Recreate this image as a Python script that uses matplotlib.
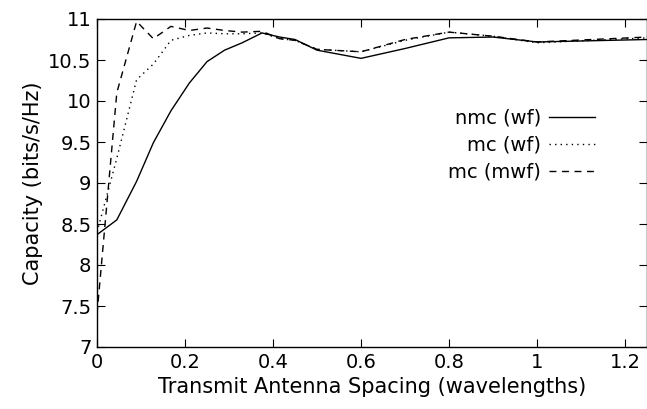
import matplotlib

matplotlib.use("Agg")
import matplotlib.pyplot as plt

# Transmit antenna spacing (wavelengths)
spacing = [0.0, 0.045, 0.09, 0.128, 0.168, 0.21, 0.25, 0.29, 0.33, 0.375,
           0.415, 0.45, 0.5, 0.6, 0.7, 0.8, 0.9, 1.0, 1.25]

# Capacity (bits/s/Hz)
nmc_wf = [8.37, 8.55, 9.02, 9.49, 9.88, 10.22, 10.48, 10.62, 10.71, 10.83,
          10.78, 10.75, 10.62, 10.52, 10.64, 10.77, 10.78, 10.72, 10.75]
mc_wf = [8.40, 9.30, 10.26, 10.45, 10.74, 10.80, 10.83, 10.82, 10.82, 10.83,
         10.76, 10.74, 10.63, 10.60, 10.74, 10.84, 10.79, 10.71, 10.77]
mc_mwf = [7.40, 10.10, 10.97, 10.76, 10.91, 10.86, 10.89, 10.86, 10.84, 10.85,
          10.76, 10.74, 10.63, 10.60, 10.75, 10.84, 10.79, 10.72, 10.78]

x_ticks = [0, 0.2, 0.4, 0.6, 0.8, 1, 1.2]
x_tick_labels = ["0", "0.2", "0.4", "0.6", "0.8", "1", "1.2"]
y_ticks = [7, 7.5, 8, 8.5, 9, 9.5, 10, 10.5, 11]
y_tick_labels = ["7", "7.5", "8", "8.5", "9", "9.5", "10", "10.5", "11"]

plt.rcParams["font.family"] = ["DejaVu Sans"]

fig = plt.figure(figsize=(6.47, 4.09), dpi=100, facecolor="white")
ax = fig.add_axes([97 / 647, 1 - 347 / 409, 550 / 647, 328 / 409])

ax.plot(spacing, nmc_wf, color="black", linewidth=1.0, linestyle="-", label="nmc (wf)")
ax.plot(spacing, mc_wf, color="black", linewidth=1.0, linestyle=(0, (1, 3)), label="mc (wf)")
ax.plot(spacing, mc_mwf, color="black", linewidth=1.0, linestyle=(0, (5, 4)), label="mc (mwf)")

ax.set_xlim(0, 1.25)
ax.set_ylim(7, 11)
ax.set_xticks(x_ticks)
ax.set_xticklabels(x_tick_labels)
ax.set_yticks(y_ticks)
ax.set_yticklabels(y_tick_labels)
ax.tick_params(direction="in", length=6, width=0.8, top=True, right=True,
               labelsize=14, pad=4)

for sp in ax.spines.values():
    sp.set_linewidth(1.0)

ax.set_xlabel("Transmit Antenna Spacing (wavelengths)", fontsize=15, labelpad=4)
ax.set_ylabel("Capacity (bits/s/Hz)", fontsize=15, labelpad=4)

ax.legend(loc="upper right", bbox_to_anchor=(0.92, 0.75), frameon=False,
          markerfirst=False, fontsize=14, handlelength=2.4, handletextpad=0.4,
          labelspacing=0.4, borderaxespad=0)

fig.savefig("out.png", dpi=100)
